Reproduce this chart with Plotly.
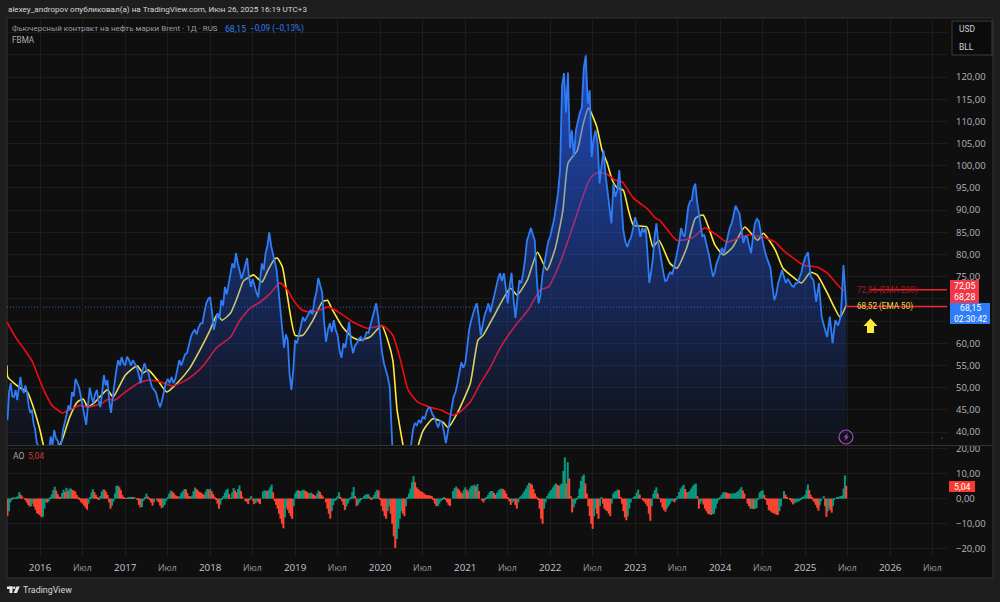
import numpy as np
import pandas as pd
import plotly.graph_objects as go

# brent close, one list per calendar year
price_2015 = [42.7, 49, 51, 48, 47.9, 49.5, 47.2, 50, 52.4, 49.5, 48.8, 50.5, 49, 46, 44.3, 45, 42, 40.5, 37.6, 36.8]
price_2016 = [36, 35, 33, 32, 32, 35, 39, 37, 40.4, 38.5, 38, 36, 37.6, 40.5, 42.7, 44, 46, 45, 49, 48, 52, 51, 50, 48, 46, 44, 41.6, 46, 50, 48, 46.5, 48.5, 49.5, 47, 45.6, 49, 52.8, 50.5, 51.7, 47, 44.3, 48, 51.7, 54, 56.2, 55, 56.9, 55.5]
price_2017 = [55, 57, 56.2, 55, 56.2, 55.5, 54.6, 53, 51, 54, 55.5, 54, 53.3, 51.5, 50, 49.5, 48.8, 47, 45.6, 47, 48.8, 51, 52, 51, 52.4, 51, 52, 54, 56.2, 55, 56.2, 57.5, 57.8, 60, 61.4, 62.5, 63, 62, 63.6, 64.5, 64.5, 67, 69, 70]
price_2018 = [70.4, 67, 63, 65, 66.8, 65.5, 69.7, 68.5, 72.7, 71, 73.6, 75.5, 78, 77, 80.3, 78, 75.8, 74.5, 76, 78, 79.2, 75, 72.7, 74.5, 72.7, 71.5, 70.4, 74.5, 78, 76.5, 80.3, 82, 85, 82, 80.3, 78.5, 76.5, 72, 67.5, 62, 59, 62, 60.7, 53, 49.5, 54]
price_2019 = [60.7, 60, 61.8, 63.5, 65.9, 65, 65.9, 66.5, 67.5, 66.5, 69.7, 71.5, 74.7, 73, 71.5, 65, 60.3, 63, 64.5, 62.5, 65.2, 63, 61.8, 58.5, 56.7, 60, 59, 62, 64.8, 60, 57.8, 59.5, 60, 61, 61.4, 60.5, 61.2, 62.5, 62.3, 64, 65.9, 67.5, 69, 66]
price_2020 = [61.4, 58, 55.5, 54, 52.4, 50, 37.5, 30, 24, 21, 20, 22, 24, 27, 30, 34, 37.5, 40.5, 42, 41.5, 42.7, 42, 43.4, 43, 44.5, 45.5, 45.4, 44, 43.4, 42, 41, 42.5, 42.2, 40, 37.5, 40, 43.4, 45.5, 47.9, 49, 51, 53, 55.7, 54.5]
price_2021 = [55.5, 59, 63, 65, 66.8, 68, 69, 66, 61.8, 64, 66.3, 67.5, 69, 67, 69, 71, 72.7, 74.5, 75.8, 74, 75.8, 72, 69, 73, 75.9, 70, 65.7, 70, 74.2, 73.5, 75.8, 79, 83.2, 84.5, 86, 84.5, 83.2, 75, 69, 71, 75.4, 78, 81, 83]
price_2022 = [84, 86, 88, 91, 94, 99, 118, 120.9, 112, 121, 104, 108, 102, 108, 110, 112, 113, 122, 124.9, 114, 117, 102, 106, 108, 105, 96, 100, 103.5, 98, 94.5, 90, 87, 96, 93, 94.5, 99, 92, 85.5, 83, 81.7, 83, 84, 86]
price_2023 = [88.4, 87, 86, 84, 86, 85, 86, 80, 73.6, 76, 79, 84, 87, 83, 80.3, 78, 75.8, 74, 74.2, 75.5, 76, 75.5, 77, 79, 81, 83, 86, 84.5, 84, 87, 90.7, 92, 92.2, 95, 96, 92, 89.3, 86, 84, 84.5, 83, 81, 79.4, 77, 75, 76, 78, 79]
price_2024 = [80.3, 81.5, 80.3, 82, 84, 86, 87, 89, 91, 90, 89.3, 86, 82.6, 84, 84, 82, 80.3, 84, 87, 88, 87.5, 85, 82.6, 81, 79.4, 78, 77, 73, 69.7, 71, 73.6, 75, 76.5, 75, 73.6, 74.5, 73.6, 73, 72.7, 73.5, 73.6, 75, 76, 78]
price_2025 = [79.4, 80.5, 75, 74.2, 69.3, 73.6, 66, 63.6, 61.4, 66, 60, 65.2, 64, 66, 77.6, 68.15]

# moving averages: decimal year / value
ema50_t = [2015.61, 2015.62, 2015.76, 2015.85, 2015.92, 2016.0, 2016.04, 2016.12, 2016.2, 2016.26, 2016.35, 2016.44, 2016.51, 2016.56, 2016.65, 2016.79, 2016.86, 2017.0, 2017.14, 2017.21, 2017.27, 2017.38, 2017.49, 2017.61, 2017.76, 2017.88, 2018.0, 2018.08, 2018.14, 2018.24, 2018.32, 2018.39, 2018.44, 2018.51, 2018.61, 2018.68, 2018.76, 2018.79, 2018.85, 2018.91, 2019.0, 2019.09, 2019.21, 2019.32, 2019.38, 2019.44, 2019.56, 2019.67, 2019.76, 2019.88, 2020.02, 2020.09, 2020.15, 2020.2, 2020.27, 2020.35, 2020.45, 2020.51, 2020.62, 2020.74, 2020.8, 2020.91, 2021.06, 2021.15, 2021.21, 2021.33, 2021.53, 2021.61, 2021.73, 2021.85, 2021.96, 2022.06, 2022.15, 2022.21, 2022.32, 2022.39, 2022.45, 2022.47, 2022.55, 2022.61, 2022.67, 2022.73, 2022.79, 2022.86, 2022.92, 2022.98, 2023.14, 2023.21, 2023.28, 2023.41, 2023.49, 2023.61, 2023.71, 2023.8, 2023.94, 2024.04, 2024.15, 2024.29, 2024.44, 2024.51, 2024.65, 2024.74, 2024.86, 2024.96, 2025.06, 2025.14, 2025.26, 2025.41, 2025.48]
ema50_v = [55, 52.4, 50, 49, 45.6, 40.4, 37, 33, 36, 38.2, 43.4, 46.8, 47.4, 45.6, 46.8, 49.5, 47.9, 52.8, 54.9, 53.3, 54, 51.7, 49, 51, 54.4, 58.5, 63, 66.4, 65.2, 66.8, 70.4, 74, 74.7, 75.4, 73.8, 76.5, 79, 79.2, 77.2, 70.4, 61.8, 61.8, 65.2, 69.3, 69.7, 67.5, 63.6, 61.4, 60.7, 61.4, 64, 60.7, 56.2, 45, 37, 28, 37, 40.4, 43, 42.2, 41, 44.3, 51, 60.7, 61.8, 65.9, 72.4, 70.9, 74.2, 80.5, 76.5, 81.4, 90, 100.6, 103.5, 109.6, 113, 112.5, 108.7, 103.5, 100.6, 96.8, 95, 94.5, 90, 86.6, 86.2, 81.7, 83.2, 78, 76.9, 81.7, 88.2, 88.9, 82.1, 79.9, 81.7, 86.2, 83.2, 84.8, 81, 76.9, 74.9, 73.6, 76, 75.4, 71.3, 65.9, 68.5]
ema200_t = [2015.61, 2015.71, 2015.8, 2015.91, 2015.98, 2016.06, 2016.14, 2016.26, 2016.35, 2016.47, 2016.56, 2016.71, 2016.8, 2016.88, 2017.0, 2017.15, 2017.27, 2017.41, 2017.55, 2017.68, 2017.8, 2017.92, 2018.08, 2018.24, 2018.35, 2018.47, 2018.59, 2018.71, 2018.82, 2018.91, 2018.98, 2019.08, 2019.18, 2019.29, 2019.39, 2019.53, 2019.68, 2019.85, 2020.04, 2020.15, 2020.24, 2020.33, 2020.44, 2020.59, 2020.71, 2020.85, 2020.94, 2021.06, 2021.18, 2021.29, 2021.41, 2021.59, 2021.74, 2021.88, 2021.98, 2022.12, 2022.24, 2022.33, 2022.44, 2022.49, 2022.56, 2022.67, 2022.76, 2022.85, 2022.98, 2023.15, 2023.24, 2023.29, 2023.49, 2023.67, 2023.82, 2023.96, 2024.08, 2024.32, 2024.51, 2024.65, 2024.74, 2024.98, 2025.14, 2025.26, 2025.44, 2025.48]
ema200_v = [64.8, 61.4, 59, 55.8, 52.4, 48.8, 46, 44.3, 45, 46, 45.6, 46.3, 47.4, 47.2, 49, 51, 51.7, 51.3, 50.4, 51.3, 52.8, 55, 59.1, 61.4, 65.2, 67.9, 69.3, 71.3, 73.6, 72, 69.7, 67.5, 67, 67.5, 68.2, 66.8, 64.8, 63.4, 63.9, 61.8, 56.2, 49.5, 46.8, 45.6, 45, 43.8, 44.5, 46.8, 51, 54.4, 58.9, 64, 67.5, 72, 72.7, 78.3, 84.8, 90, 96, 97.6, 98.5, 98.1, 96.8, 96.3, 92.7, 90.2, 88.2, 87.7, 83.2, 83.7, 86, 84.4, 82.8, 84.4, 83.9, 82.8, 81, 77.6, 77.2, 75.8, 72, 72.05]

# awesome oscillator, one list per calendar year
ao_2015 = [-6.8, -5, -1.5, -0.2, 0.3, 0.2, 0.5, 1, 2.6, 1.5, 0.8, 0, -0.6, -1.5, -2.5, -3.2, -3, -2, -3.2, -4.5, -5.8, -6.2]
ao_2016 = [-6.6, -7.4, -7.2, -4, -1.5, -1.6, -1, 0.5, 1.7, 3.4, 4.7, 3.2, 1.8, 0.8, 0.5, 2.2, 3.5, 2.6, 4.3, 3, 3.9, 4, 3.4, 3.2, 2.8, 1.5, 0.3, -0.6, -1.5, -2, -2.8, -3.6, -4.4, -2, 0.5, 2.4, 3.7, 2.6, 1.5, 0.4, -0.5, 1, 2.8, 3.6, 3.5, 2.6, 1.5, -1.5, -4, -2.8, -1.2, 2, 5, 5.2, 4.5, 3.4, 1.5, 0.6]
ao_2017 = [0.2, 0.1, 0.3, 0.5, 0.5, 0.3, 0.4, 0, -0.5, -2.5, -3.5, -3.3, -1, 0.6, 2, 0.8, -0.5, -1.5, -2.8, -1.4, 0, -0.8, -1.5, -2.8, -3.8, -3.4, -2.5, -1, 0.5, 2, 3.2, 2.8, 2.2, 1.4, 1, 0.8, 1, 2.2, 3, 3.8, 3.7, 2.2, 1, 0.8, 1.2, 3, 4.4, 3.8, 3.2, 2.6, 2.4, 1.8, 1.5, 2.8, 3.8, 3.6]
ao_2018 = [3.9, 3, 1.8, 0.8, -0.3, -2, -4, -2.4, -0.5, 1, 2.4, 3.4, 3.9, 1.8, 0.2, 2.5, 4.2, 3.2, 2.5, 3.8, 5.2, 3, 0.8, 0, -1, -1.4, -2.2, -0.5, 1, -0.8, -2.2, -1.8, -1, -1.6, -2.2, 0, 2.8, 3.2, 3.2, 3, 3.5, 4.5, 5.6, 2.5, -1, -2.5, -4, -6, -8, -10, -11.8, -7.5, -3.5, -4.5, -5.8, -7, -8.1, -3]
ao_2019 = [2, 3, 3.4, 3, 3, 3.4, 3.5, 3, 2.8, 2.2, 2.2, 2.4, 1.8, 1.4, 1, 2, 3.2, 2.6, 1.5, 0.8, 0, -1.5, -4, -6, -8, -5, -2.5, -1, -0.5, 1, 2.5, 0.5, -1, -2.5, -4.5, -3.2, -2, -0.8, 0.5, 2.5, 4.6, 1, -3, -2.4, -1.5, -0.6, 0.2, 1, 1.5, 1.8, 1.8, 0.8, -0.2, 0.6, 1.5, 2.6, 3.5, 3.2]
ao_2020 = [-0.5, -3, -5, -7, -8, -5, -3, -6, -10, -15, -19.6, -16, -12, -8, -5, -6, -7, -3, 0.5, 2, 4, 6.5, 8.9, 6.5, 4.5, 3.8, 3.2, 2.8, 2.5, 2, 1.5, 1.4, 1.3, 1.2, 1, -0.5, -2, -3, -3, -2, -1, -0.2, 0.4, -0.5, -1.5, -2.5, -3, 0, 3, 4.2, 4.8, 4, 3.5, 2.6, 2, 3.4]
ao_2021 = [4.5, 3.5, 2.8, 4, 5, 5.2, 5.5, 4.8, 5.8, 3, 0, -0.8, -1.5, -0.6, 0.3, 1.4, 2.5, 3, 3, 2.2, 1.5, 2.4, 3.3, 3.8, 4, 3.8, 3.2, 2, 0.5, -1, -2.5, -1.6, -1, -2.5, -4, -1.5, 0.5, 1.2, 2, 3, 4, 5.2, 6.3, 6, 5.5, 3.8, 2, 0.8, -0.5, -4, -8, -10, -4, -1.5, 1, 2]
ao_2022 = [3, 3.6, 4.5, 5.4, 6, 5.4, 5, 5.6, 6, 11, 16.4, 6, 14.5, 8, 1, -5.5, -3.5, -2, -0.5, 1, 4, 7, 8.9, 9.5, 6, 2, -3, -7, -10, -12, -7, -4, -6, -8, -3, 0.5, -2, -4, -4.6, -5, -6, -7, -2, 2, 2.8, 3, 3.6, 3.4, 0.5, -2, -5, -7.5, -8.6, -7, -4, -1.5, 0, 0.6]
ao_2023 = [1, 2.4, 3.6, 1.6, 0, -0.5, -1.2, -2, -3, -6, -8.8, -3, 2, 3.4, 4.5, 2, 0.2, -1.5, -3.5, -4.5, -5.2, -4, -3, -2, -1, -1, -1.5, -0.4, 1, 2.6, 4, 4.8, 5.5, 3.8, 2.5, 2.6, 3, 4, 5, 5.6, 6, 1, -4, -2, -1, -2.4, -4, -5, -6, -6.2, -6.5, -6.2, -6, -4, -2, -0.6]
ao_2024 = [0.5, 1.5, 2.5, 2.6, 2.5, 2.2, 2, 2, 2, 2, 2.2, 2.6, 3, 3.8, 4.6, 3.2, 2, 0, -2, -3, -4, -4, -4.2, -4, -3.8, -0.5, 2.5, 3, 3.3, 1.5, -0.5, -2.5, -4.5, -5, -5.5, -5.8, -6, -6.4, -6.5, -5, -3, 0, 3, 1.6, 0.5, 0, -0.5, -1.4, -2.3, -1.8, -1.5, -1.2, -1, -0.4, 0.3, 0.8]
ao_2025 = [1.5, 3.5, 5.6, 3.4, 1.5, 0.3, -0.8, -1.5, -2.5, -3.6, -4.8, -2.8, -1, 0, 1, -3, -7.2, -5, -3.5, -4.5, -5.6, -3, -0.2, 0, 0.3, 0.5, 0.8, 1, 1.2, 4, 9.2, 5.04]

# 70 and 65 sit under the price tags in the original
price_ticks = [40, 45, 50, 55, 60, 75, 80, 85, 90, 95, 100, 105, 110, 115, 120]
blank_ticks = [65, 70, 125, 130]
ao_ticks = [-20, -10, 0, 10, 20]
time_ticks = ["2016-01-01", "2016-07-01", "2017-01-01", "2017-07-01", "2018-01-01", "2018-07-01", "2019-01-01", "2019-07-01", "2020-01-01", "2020-07-01", "2021-01-01", "2021-07-01", "2022-01-01", "2022-07-01", "2023-01-01", "2023-07-01", "2024-01-01", "2024-07-01", "2025-01-01", "2025-07-01", "2026-01-01", "2026-07-01"]

BG = "#1e1e1e"
PANEL = "#0f0f0f"
GRID = "#1d1d1d"
BLUE = "#2e7cf6"
RED_TAG = "#f23645"
TEAL = "#089981"
RED_BAR = "#ff4433"
TEXT = "#b4b6bc"
FONT = "Roboto"


def spread(start, end, values, closed=False):
    # even dates between two calendar dates
    start, end = pd.Timestamp(start), pd.Timestamp(end)
    n = len(values) - 1 if closed else len(values)
    return [start + (end - start) * i / n for i in range(len(values))]


def year_dates(t):
    out = []
    for v in t:
        y = int(v)
        out.append(pd.Timestamp(year=y, month=1, day=1) + pd.Timedelta(days=(v - y) * 365.25))
    return out


def by_year(lists, first_start):
    dates, values = [], []
    for i, vals in enumerate(lists):
        year = 2015 + i
        start = first_start if i == 0 else f"{year}-01-01"
        if year == 2025:
            dates += spread(start, "2025-06-26", vals, closed=True)
        else:
            dates += spread(start, f"{year + 1}-01-01", vals)
        values += vals
    return dates, values


price_x, price_y = by_year([price_2015, price_2016, price_2017, price_2018, price_2019, price_2020,
                            price_2021, price_2022, price_2023, price_2024, price_2025], "2015-08-14")
ao_x, ao_y = by_year([ao_2015, ao_2016, ao_2017, ao_2018, ao_2019, ao_2020,
                      ao_2021, ao_2022, ao_2023, ao_2024, ao_2025], "2015-08-14")
ao_colors = [TEAL if i > 0 and ao_y[i] >= ao_y[i - 1] else RED_BAR for i in range(len(ao_y))]

# page layout in pixels
W, H = 1000, 602
L, R, T, B = 7, 947, 18, 556


def px(x):
    return (x - L) / (R - L)


def py(y):
    return (B - y) / (B - T)


def poly(points):
    return "M" + " L".join(f"{px(x):.5f},{py(y):.5f}" for x, y in points) + " Z"


def paper_rect(x0, y0, x1, y1, fill, line=None, layer="above"):
    return dict(type="rect", xref="paper", yref="paper", x0=px(x0), x1=px(x1), y0=py(y0), y1=py(y1),
                fillcolor=fill, line=dict(color=line or fill, width=1 if line else 0), layer=layer)


def label(x, y, text, color=TEXT, size=9.5, anchor="left", **kw):
    return dict(xref="paper", yref="paper", x=px(x), y=py(y), text=text, showarrow=False,
                xanchor=anchor, yanchor="middle", font=dict(color=color, size=size, family=FONT), **kw)


fig = go.Figure()
fig.add_trace(go.Scatter(x=year_dates(ema50_t), y=ema50_v, mode="lines", yaxis="y",
                         line=dict(color="#ffeb3b", width=1.6, shape="spline", smoothing=0.5)))
fig.add_trace(go.Scatter(x=year_dates(ema200_t), y=ema200_v, mode="lines", yaxis="y",
                         line=dict(color="#f50a14", width=1.6, shape="spline", smoothing=0.5)))
# area goes over the averages, that is what tints them in the original
fig.add_trace(go.Scatter(x=price_x, y=price_y, mode="lines", yaxis="y", fill="tozeroy",
                         line=dict(color=BLUE, width=1.8),
                         fillgradient=dict(type="vertical", start=125, stop=37,
                                           colorscale=[[0, "rgba(41,98,255,0.72)"], [1, "rgba(41,98,255,0.03)"]])))
fig.add_trace(go.Bar(x=ao_x, y=ao_y, yaxis="y2", marker=dict(color=ao_colors, line_width=0),
                     width=7.5e8))

shapes = [
    paper_rect(7, 18, 993, 578, PANEL, "#333333", "below"),
    paper_rect(7, 445, 993, 446, "#333333"),
    dict(type="line", xref="paper", yref="y", x0=0, x1=1, y0=68.15, y1=68.15,
         line=dict(color="rgba(46,124,246,0.75)", width=1, dash="1px,2px"), layer="below"),
    dict(type="line", xref="x", yref="y", x0="2025-10-05", x1="2026-09-02", y0=72.05, y1=72.05,
         line=dict(color="#f5222d", width=1.5)),
    dict(type="line", xref="x", yref="y", x0="2025-06-26", x1="2026-09-02", y0=68.28, y1=68.28,
         line=dict(color="#f5222d", width=1.5)),
    # yellow arrow
    dict(type="path", xref="paper", yref="paper", line_width=0, fillcolor="#ffeb3b",
         path=poly([(870.5, 318.5), (877.5, 326), (874, 326), (874, 333), (867, 333), (867, 326), (863.5, 326)])),
    # price tags
    paper_rect(950, 280, 979, 303, RED_TAG),
    paper_rect(950, 303, 990, 324, BLUE),
    paper_rect(949, 481, 975, 492, "#f8392c"),
    # currency box
    paper_rect(952, 21, 992, 55, "#0b0b0b", "#3d3d3d"),
    # purple lightning badge
    dict(type="circle", xref="paper", yref="paper", x0=px(839), x1=px(853), y0=py(430), y1=py(444),
         line=dict(color="#a64ac9", width=1.2), fillcolor="rgba(0,0,0,0)"),
    dict(type="path", xref="paper", yref="paper", line_width=0, fillcolor="#a64ac9",
         path=poly([(848, 433), (843.5, 437.6), (846, 437.6), (844.5, 441), (849, 436.4), (846.5, 436.4)])),
    paper_rect(941.5, 437.5, 942.5, 438.5, "#8a8a8a"),
    # TradingView logo
    paper_rect(7, 586.5, 12.5, 589, "#e8e8e8"),
    paper_rect(9.5, 586.5, 12.5, 593, "#e8e8e8"),
    dict(type="circle", xref="paper", yref="paper", x0=px(13), x1=px(15.4), y0=py(586.5), y1=py(589),
         line_width=0, fillcolor="#e8e8e8"),
    dict(type="path", xref="paper", yref="paper", line_width=0, fillcolor="#e8e8e8",
         path=poly([(16.5, 586.5), (19.8, 586.5), (16.8, 593), (13.6, 593)])),
]

annotations = [
    label(6, 9.5, "alexey_andropov опубликовал(а) на TradingView.com, Июн 26, 2025 16:19 UTC+3", "#d6d6d6", 8.1),
    label(10, 28.5, "Фьючерсный контракт на нефть марки Brent · 1Д · RUS", "#9a9da3", 8),
    label(223, 28.5, "68,15", BLUE, 8.6),
    label(248, 28.5, "−0,09 (−0,13%)", BLUE, 8.2),
    label(10, 39.5, "FBMA", "#b0b0b0", 8.2),
    label(11, 456, "AO", "#a8a8a8", 8.6),
    label(26, 456, "5,04", "#c93a30", 8.6),
    label(855, 290, "72,06 (EMA 200)", "#a51c1c", 8.2),
    label(855, 306, "68,52 (EMA 50)", "#e8d44d", 8.2),
    label(964.5, 291.5, "72,05<br>68,28", "#ffffff", 8.8, "center"),
    label(970, 313, "68,15<br>02:30:42", "#ffffff", 8.6, "center"),
    label(962, 487, "5,04", "#ffffff", 8.8, "center"),
    label(957, 29, "USD", "#d0d0d0", 8.4),
    label(957, 47, "BLL", "#d0d0d0", 8.4),
    label(21, 590, "TradingView", "#d8d8d8", 8.9),
]


def tick_text(v):
    return f"{v:.2f}".replace(".", ",").replace("-", "−")


time_labels = []
for d in time_ticks:
    if d.endswith("-01-01"):
        time_labels.append(f'<span style="color:#c4c6cc">{d[:4]}</span>')
    else:
        time_labels.append('<span style="color:#9a9ca2;font-size:8.7px">Июл</span>')

fig.update_layout(
    width=W, height=H, margin=dict(l=L, r=W - R, t=T, b=H - B),
    paper_bgcolor=BG, plot_bgcolor=PANEL, showlegend=False, hovermode=False,
    font=dict(family=FONT, color=TEXT, size=9.5),
    shapes=shapes, annotations=annotations,
    xaxis=dict(type="date", range=["2015-08-12", "2026-09-02"], anchor="y2", tickmode="array",
               tickvals=time_ticks, ticktext=time_labels, showgrid=True, gridcolor=GRID, gridwidth=1,
               zeroline=False, showline=False, ticks="", ticklabelstandoff=4, tickangle=0,
               tickfont=dict(size=9.8, family="Open Sans")),
    yaxis=dict(domain=[py(445), 1], range=[37.07, 133.3], side="right", anchor="x", tickmode="array",
               tickvals=price_ticks + blank_ticks,
               ticktext=[tick_text(v) for v in price_ticks] + [""] * len(blank_ticks),
               showgrid=True, gridcolor=GRID, zeroline=False, showline=False, ticks="",
               ticklabelstandoff=8, tickfont=dict(size=9.5, family="Open Sans")),
    yaxis2=dict(domain=[0, py(447)], range=[-22.8, 20.5], side="right", anchor="x", tickmode="array",
                tickvals=ao_ticks, ticktext=[tick_text(v) for v in ao_ticks],
                showgrid=True, gridcolor=GRID, zeroline=False, showline=False, ticks="",
                ticklabelstandoff=8, tickfont=dict(size=9.5, family="Open Sans")),
)

fig.write_html("out.html", config=dict(displayModeBar=False),
               post_script="document.body.style.margin='0';document.body.style.overflow='hidden';")
